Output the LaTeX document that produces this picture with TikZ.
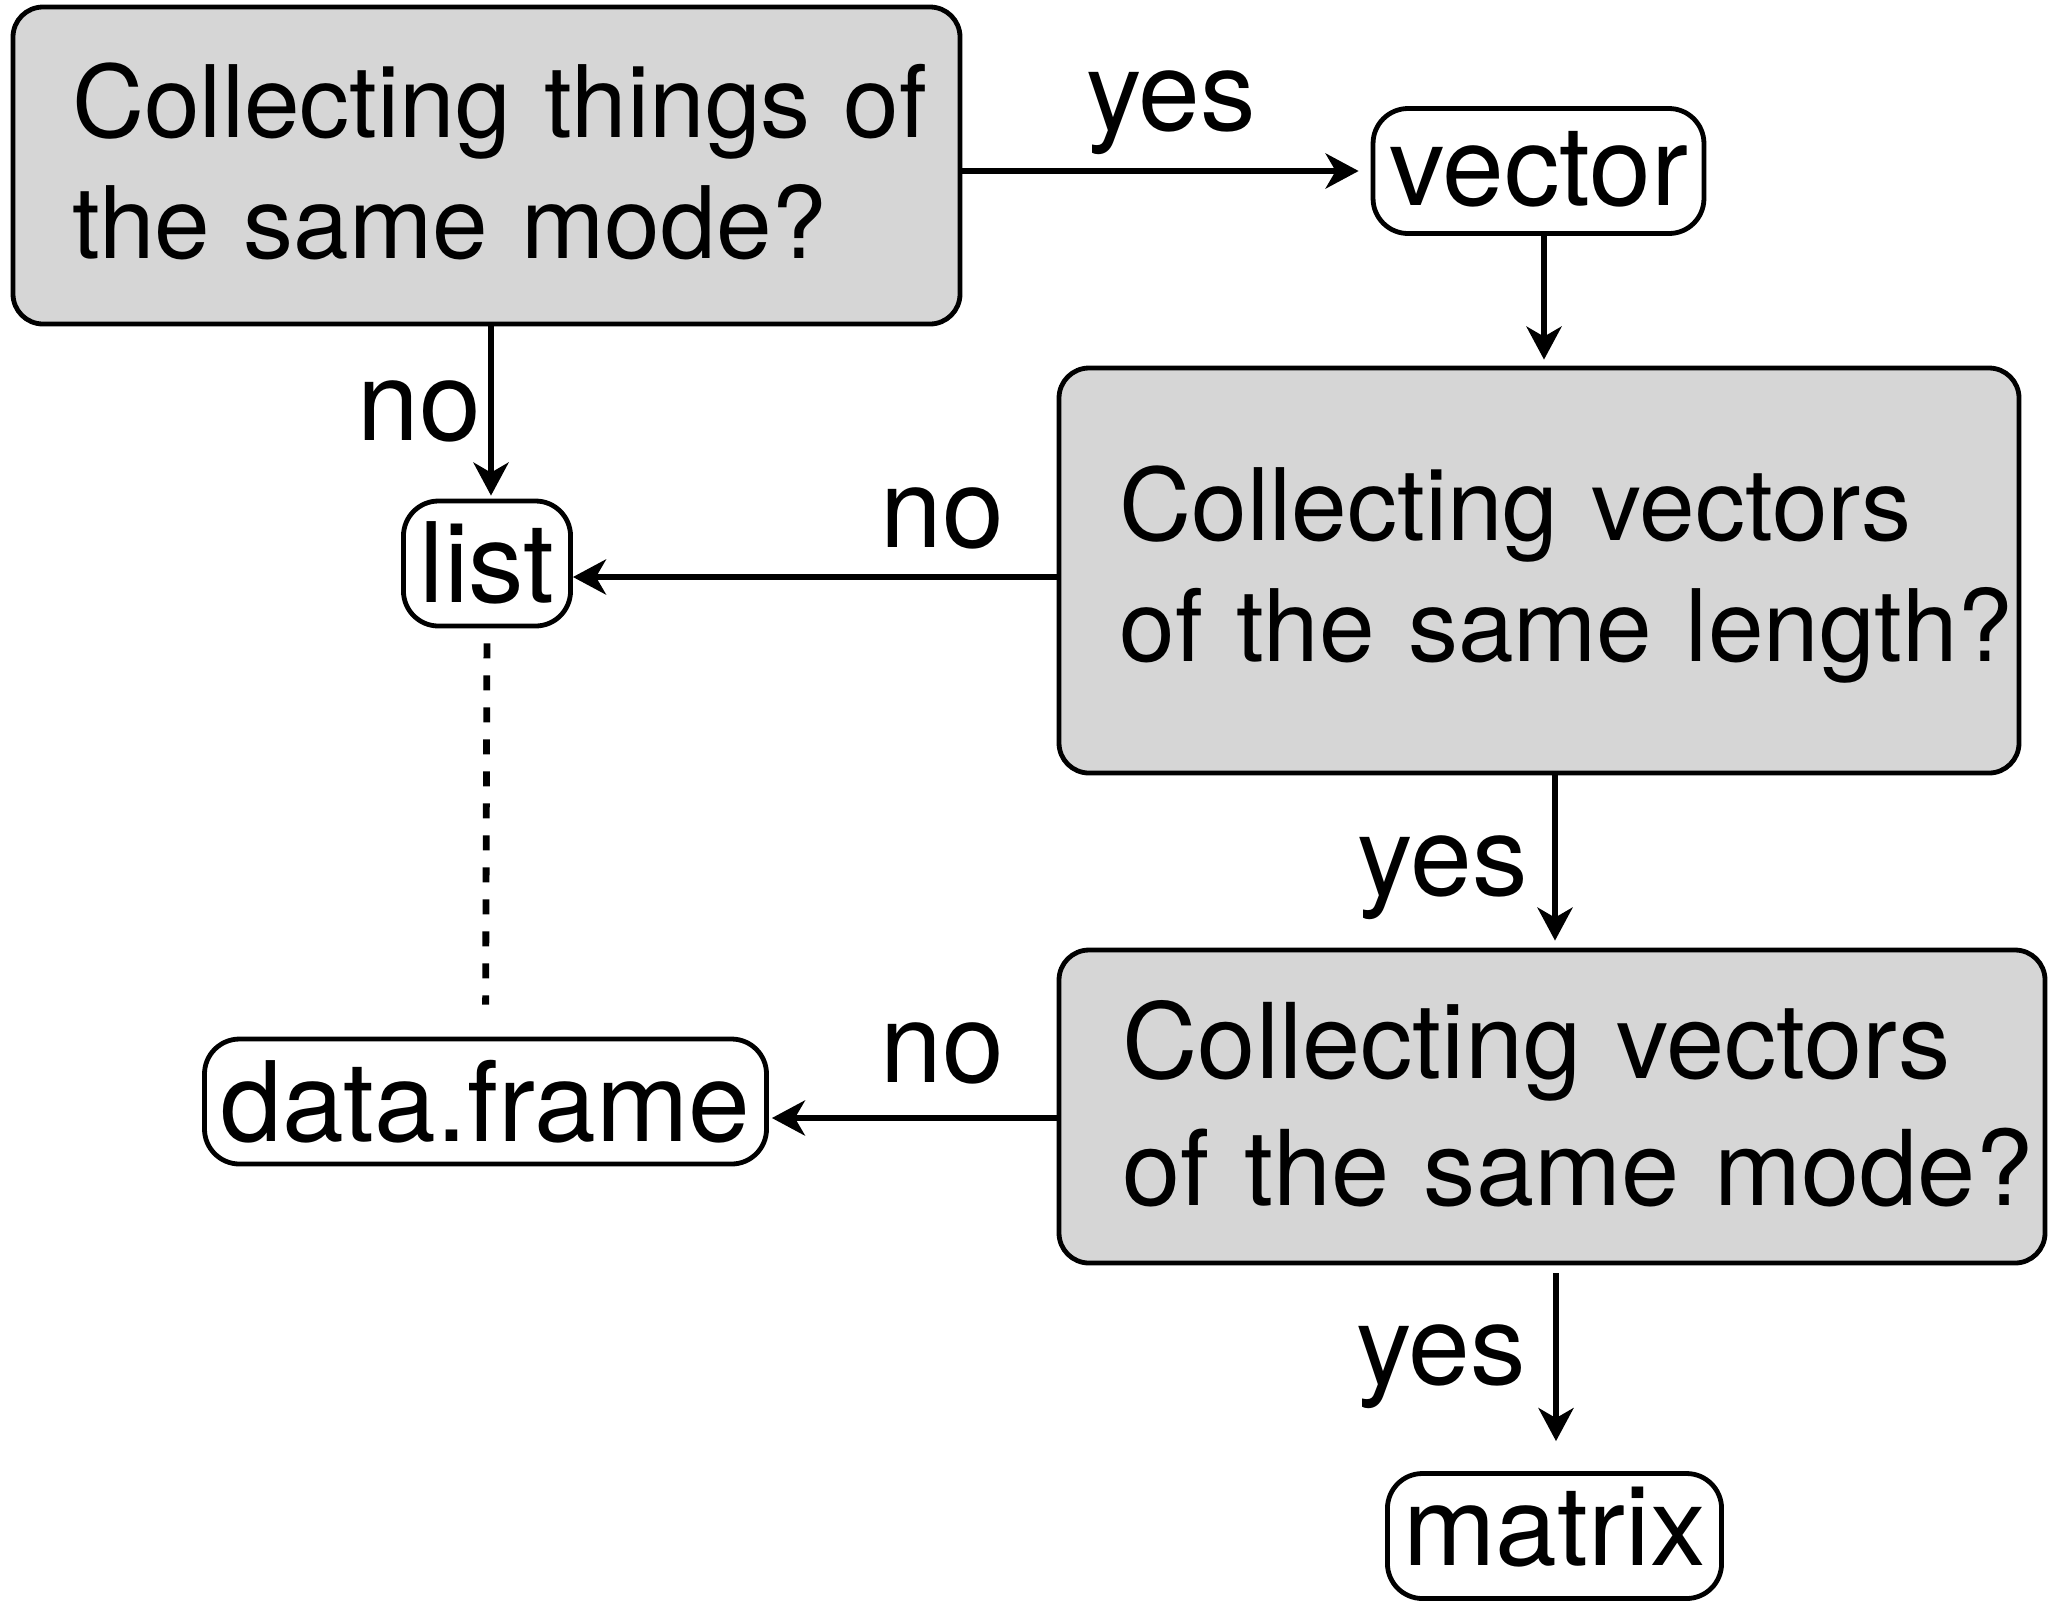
\documentclass[tikz,border=0pt]{standalone}
\usepackage{fontspec}
\setmainfont{TeX Gyre Heros}
\usetikzlibrary{arrows.meta}
\definecolor{boxfill}{RGB}{214,214,214}
\tikzset{
  decision/.style={draw, line width=2.4pt, fill=boxfill, rounded corners=15pt,
    inner sep=0pt, align=left, text height=30pt,
    font=\fontsize{50pt}{60.5pt}\selectfont},
  outcome/.style={draw, line width=2.4pt, rounded corners=17.5pt,
    inner xsep=8pt, inner ysep=0pt, minimum height=62.5pt, text height=40pt,
    font=\fontsize{55.5pt}{66pt}\selectfont},
  answer/.style={inner sep=0pt, anchor=base, font=\fontsize{55.5pt}{66pt}\selectfont},
  flow/.style={line width=3.4pt, -{Stealth[length=16.5pt, width=17.5pt, inset=5pt]}},
  link/.style={line width=3.4pt, dash pattern=on 7.5pt off 8.5pt},
}
\begin{document}
\begin{tikzpicture}[x=0.5pt, y=-0.5pt]
\useasboundingbox (0,0) rectangle (2050,1608);

% questions
\node[decision, minimum width=473.5pt, minimum height=158.5pt, text width=414.5pt,
      text depth=58.5pt] (box1) at (486.5,165.5)
  {\mbox{Collecting things of}\\\mbox{the same mode?}};
\node[decision, minimum width=480pt, minimum height=202.5pt, text width=419.5pt,
      text depth=60.5pt] (box2) at (1539,570.5)
  {\mbox{Collecting vectors}\\\mbox{of the same length?}};
\node[decision, minimum width=493pt, minimum height=156.5pt, text width=429.5pt,
      text depth=58.5pt, font=\fontsize{52.25pt}{63.5pt}\selectfont] (box3) at (1552,1106.5)
  {\mbox{Collecting vectors}\\\mbox{of the same mode?}};

% resulting structures
\node[outcome, text depth=6pt]  (vector) at (1538.5,171)  {vector};
\node[outcome, text depth=1pt]  (list)   at (487,563.5)   {list};
\node[outcome, text depth=0pt]  (dframe) at (485.5,1101.5) {data.frame};
\node[outcome, text depth=11pt] (mtx)    at (1554.5,1536) {matrix};

% answers
\node[answer] (yes1) at (1171,130)   {yes};
\node[answer] (no1)  at (419.5,440)  {no};
\node[answer] (no2)  at (942.5,547)  {no};
\node[answer] (yes2) at (1442.5,895) {yes};
\node[answer] (no3)  at (942.5,1082) {no};
\node[answer] (yes3) at (1441,1384)  {yes};

% connectors
\draw[flow, shorten >=6pt] (box1.east |- vector.west) -- (vector.west);
\draw[flow, shorten >=1.5pt] ([xshift=2pt]list.north |- box1.south) -- ([xshift=2pt]list.north);
\draw[flow, shorten >=3pt] ([xshift=2.75pt]vector.south) -- ([xshift=2.75pt]vector.south |- box2.north);
\draw[flow] ([yshift=-3.25pt]box2.west) -- ([yshift=-3.25pt]box2.west -| list.east);
\draw[flow, shorten >=3.5pt] ([xshift=1.5pt]box3.north |- box2.south) -- ([xshift=1.5pt]box3.north);
\draw[flow, shorten >=1.5pt] ([yshift=-5.75pt]box3.west) -- ([yshift=-5.75pt]box3.west -| dframe.east);
\draw[flow, shorten <=4pt, shorten >=15pt] ([xshift=.75pt]mtx.north |- box3.south) -- ([xshift=.75pt]mtx.north);
\draw[link, shorten <=7.5pt, shorten >=16pt] (list.south) -- (dframe.north);
\end{tikzpicture}
\end{document}
